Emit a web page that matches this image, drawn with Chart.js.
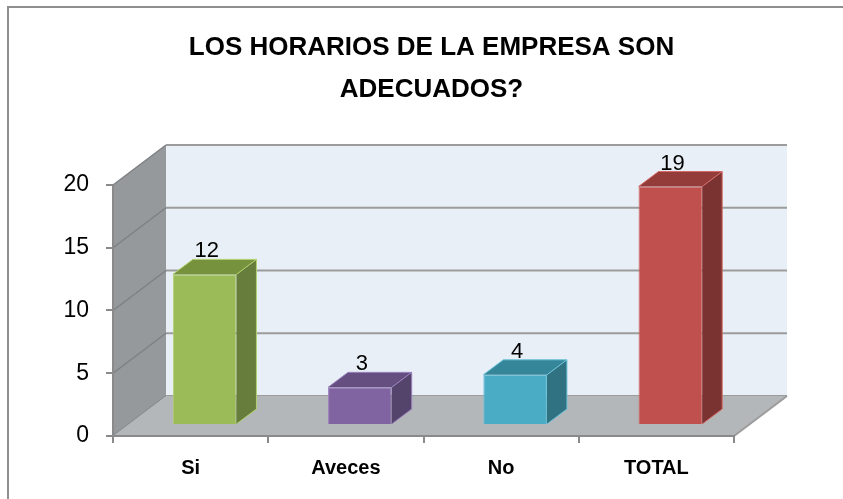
<!DOCTYPE html>
<html>
<head>
<meta charset="utf-8">
<script src="https://cdn.jsdelivr.net/npm/chart.js@4.4.1/dist/chart.umd.min.js"></script>
<style>
  html, body { margin: 0; padding: 0; background: #fff; }
  #wrap { width: 843px; height: 499px; }
</style>
</head>
<body>
<div id="wrap"><canvas id="chart" width="843" height="499"></canvas></div>
<script>
// data
const categories = ['Si', 'Aveces', 'No', 'TOTAL'];
const values = [12, 3, 4, 19];
const yTicks = [0, 5, 10, 15, 20];

// excel 2007 style colours (front, side, top)
const frontColors = ['#9bbb59', '#8064a2', '#4bacc6', '#c0504d'];
const sideColors = ['#677d3b', '#54436b', '#317282', '#7b3331'];
const topColors = ['#77923c', '#654f81', '#36869a', '#943c3a'];
const edgeColors = ['#b3d26e', '#9a80bd', '#6cc3da', '#d46a67'];

// 3d geometry
const WALL_DX = 53, WALL_DY = -40;   // depth of the whole plot
const BAR_OX = 14, BAR_OY = -11;     // where bars sit in depth
const BAR_DX = 20, BAR_DY = -15;     // depth of one bar

const walls3d = {
    id: 'walls3d',
    beforeDraw(chart) {
        const ctx = chart.ctx;
        const area = chart.chartArea;
        const y = chart.scales.y;
        const top = y.getPixelForValue(20), bottom = y.getPixelForValue(0);
        const L = area.left, R = area.right;

        ctx.save();
        // outer frame
        ctx.strokeStyle = '#8f8f8f';
        ctx.lineWidth = 2;
        ctx.strokeRect(8, 7, 900, 600);

        // back wall
        ctx.fillStyle = '#e9eff6';
        ctx.fillRect(L + WALL_DX, top + WALL_DY, R - L, bottom - top);

        // side wall
        ctx.fillStyle = '#95999c';
        ctx.beginPath();
        ctx.moveTo(L, top);
        ctx.lineTo(L + WALL_DX, top + WALL_DY);
        ctx.lineTo(L + WALL_DX, bottom + WALL_DY);
        ctx.lineTo(L, bottom);
        ctx.closePath();
        ctx.fill();

        // grid lines
        yTicks.forEach(function (v) {
            const py = y.getPixelForValue(v);
            ctx.strokeStyle = '#9c9c9c';
            ctx.lineWidth = 2;
            ctx.beginPath();
            ctx.moveTo(L + WALL_DX, py + WALL_DY);
            ctx.lineTo(R + WALL_DX, py + WALL_DY);
            ctx.stroke();
            ctx.strokeStyle = '#7d8183';
            ctx.lineWidth = 1.5;
            ctx.beginPath();
            ctx.moveTo(L, py);
            ctx.lineTo(L + WALL_DX, py + WALL_DY);
            ctx.stroke();
        });

        // floor
        ctx.fillStyle = '#b4b7ba';
        ctx.beginPath();
        ctx.moveTo(L, bottom);
        ctx.lineTo(L + WALL_DX, bottom + WALL_DY);
        ctx.lineTo(R + WALL_DX, bottom + WALL_DY);
        ctx.lineTo(R, bottom);
        ctx.closePath();
        ctx.fill();
        ctx.strokeStyle = '#9c9c9c';
        ctx.lineWidth = 2;
        ctx.beginPath();
        ctx.moveTo(R, bottom);
        ctx.lineTo(R + WALL_DX, bottom + WALL_DY);
        ctx.stroke();
        ctx.restore();
    },
    beforeDatasetsDraw(chart) {
        chart.ctx.save();
        chart.ctx.translate(BAR_OX, BAR_OY);
    },
    afterDatasetsDraw(chart) {
        const ctx = chart.ctx;
        const meta = chart.getDatasetMeta(0);
        meta.data.forEach(function (bar, i) {
            const l = bar.x - bar.width / 2, r = bar.x + bar.width / 2;
            const t = bar.y, b = bar.base;

            ctx.fillStyle = sideColors[i];
            ctx.beginPath();
            ctx.moveTo(r, t);
            ctx.lineTo(r + BAR_DX, t + BAR_DY);
            ctx.lineTo(r + BAR_DX, b + BAR_DY);
            ctx.lineTo(r, b);
            ctx.closePath();
            ctx.fill();

            ctx.fillStyle = topColors[i];
            ctx.beginPath();
            ctx.moveTo(l, t);
            ctx.lineTo(l + BAR_DX, t + BAR_DY);
            ctx.lineTo(r + BAR_DX, t + BAR_DY);
            ctx.lineTo(r, t);
            ctx.closePath();
            ctx.fill();

            ctx.strokeStyle = edgeColors[i];
            ctx.lineWidth = 1;
            ctx.beginPath();
            ctx.moveTo(l, t);
            ctx.lineTo(l + BAR_DX, t + BAR_DY);
            ctx.lineTo(r + BAR_DX, t + BAR_DY);
            ctx.lineTo(r + BAR_DX, b + BAR_DY);
            ctx.lineTo(r, b);
            ctx.moveTo(r, t);
            ctx.lineTo(r + BAR_DX, t + BAR_DY);
            ctx.stroke();

            // value label
            ctx.fillStyle = '#000';
            ctx.font = '22px "Liberation Sans", Arial, sans-serif';
            ctx.textAlign = 'center';
            ctx.textBaseline = 'alphabetic';
            ctx.fillText(String(values[i]), bar.x + 2, t + BAR_DY - 2);
        });
        ctx.restore();
    }
};

const ctx = document.getElementById('chart').getContext('2d');
const chart = new Chart(ctx, {
    type: 'bar',
    data: {
        labels: categories,
        datasets: [{
            data: values,
            backgroundColor: frontColors,
            borderColor: edgeColors,
            borderWidth: 1,
            barPercentage: 0.41,
            categoryPercentage: 1,
            clip: false,
        }],
    },
    options: {
        responsive: false,
        animation: false,
        layout: {
            padding: { left: 20, right: 0, top: 0, bottom: 0 },
        },
        plugins: {
            legend: { display: false },
            tooltip: { enabled: false },
            title: {
                display: true,
                text: ['LOS HORARIOS DE LA EMPRESA SON', 'ADECUADOS?'],
                color: '#000',
                font: { family: '"Liberation Sans", Arial, sans-serif', size: 26, weight: 'bold', lineHeight: 1.615 },
                padding: { top: 27, bottom: 74 },
            },
        },
        scales: {
            x: {
                grid: { drawOnChartArea: false, drawTicks: true, tickLength: 7, color: '#8a8a8a', lineWidth: 2 },
                border: { display: true, color: '#8a8a8a', width: 2 },
                ticks: {
                    color: '#000',
                    padding: 13,
                    font: { family: '"Liberation Sans", Arial, sans-serif', size: 20, weight: 'bold' },
                },
                afterFit(scale) { scale.height = 63; },
            },
            y: {
                min: 0,
                max: 20,
                ticks: {
                    stepSize: 5,
                    color: '#000',
                    padding: 17,
                    font: { family: '"Liberation Sans", Arial, sans-serif', size: 23 },
                },
                grid: { drawOnChartArea: false, drawTicks: true, tickLength: 7, color: '#8a8a8a', lineWidth: 2 },
                border: { display: true, color: '#8a8a8a', width: 2 },
                afterFit(scale) { scale.width = 93; },
            },
            // empty right axis, only keeps room for the 3d depth
            yRight: {
                position: 'right',
                display: true,
                grid: { display: false },
                border: { display: false },
                ticks: { display: false },
                afterFit(scale) { scale.width = 109; },
            },
        },
    },
    plugins: [walls3d],
});
</script>
</body>
</html>
